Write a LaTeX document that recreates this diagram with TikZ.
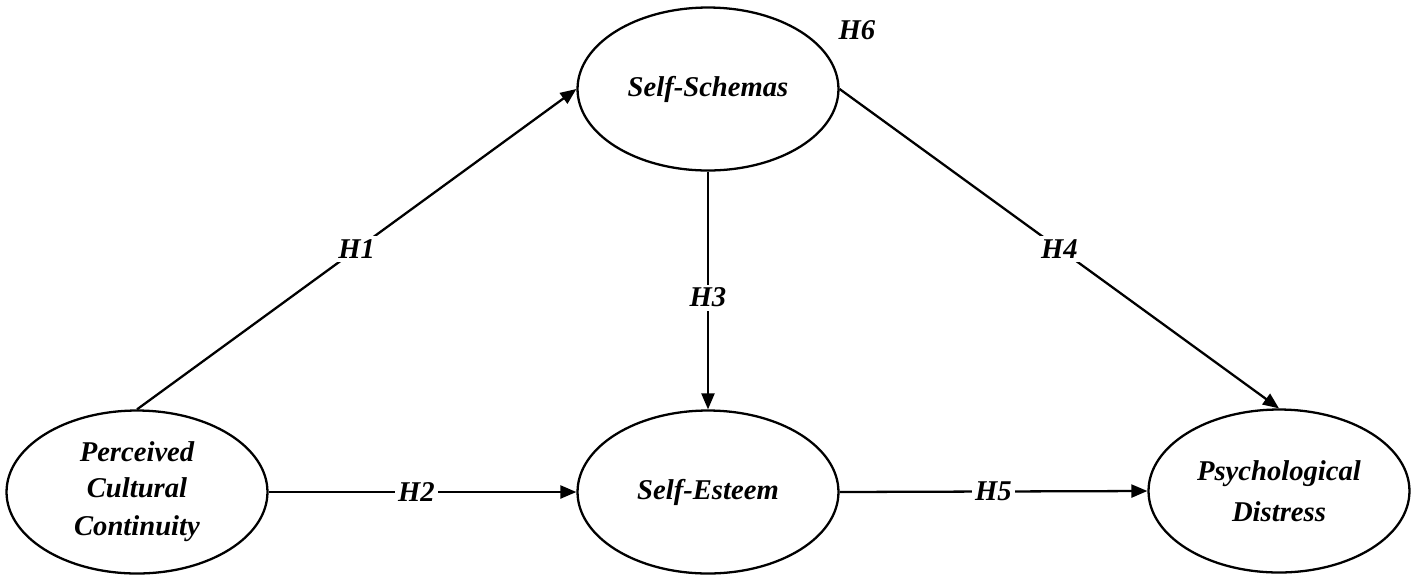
\documentclass[tikz,border=0pt]{standalone}
\usepackage{fontspec}
\setmainfont{Liberation Serif}
\usetikzlibrary{shapes.geometric,arrows.meta}
\begin{document}
\begin{tikzpicture}[x=0.02cm,y=-0.02cm,
  construct/.style={draw,line width=1.3pt,ellipse,inner sep=0pt,
    minimum width=5.22cm,minimum height=3.26cm,align=center,
    font=\fontsize{16.3}{21}\selectfont\bfseries\itshape},
  link/.style={line width=1.3pt,-{Triangle[length=0.32cm,width=0.26cm]}},
  hyp/.style={fill=white,inner sep=2pt,font=\fontsize{16.3}{19}\selectfont\bfseries\itshape}]
\useasboundingbox (0,0) rectangle (1418,583);
\node[construct] (pcc) at (137,492) {Perceived\\[-1pt]Cultural\\[1pt]Continuity};
\node[construct] (ss) at (708,89) {Self-Schemas};
\node[construct] (se) at (708,492) {Self-Esteem};
\node[construct,font=\fontsize{16.3}{23.5}\selectfont\bfseries\itshape] (pd) at (1279,491) {Psychological\\Distress};
\draw[link] (pcc.north) -- node[hyp] {H1} (ss.west);
\draw[link] (pcc.east) -- node[hyp,pos=0.48] {H2} (se.west);
\draw[link] (ss.south) -- node[hyp,pos=0.53] {H3} (se.north);
\draw[link] (ss.east) -- node[hyp] {H4} (pd.north);
\draw[link] (se.east) -- node[hyp] {H5} (pd.west);
\node[hyp,fill=none] (h6) at (857,30) {H6};
\end{tikzpicture}
\end{document}
